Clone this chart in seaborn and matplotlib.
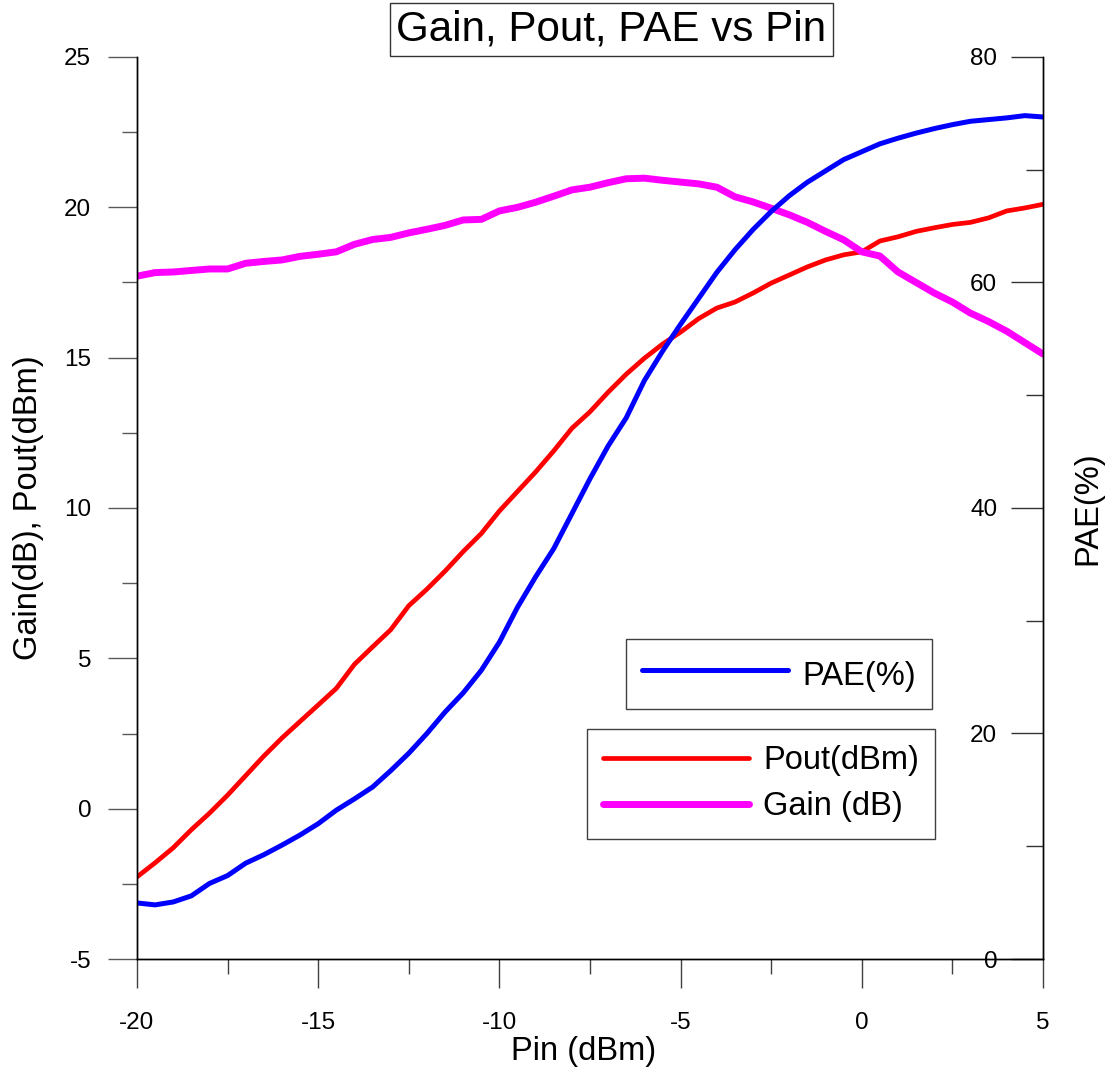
import numpy as np
import pandas as pd
import seaborn as sns
import matplotlib.pyplot as plt
from matplotlib.ticker import MultipleLocator

# sweep of input power, 0.5 dBm steps
pin = np.arange(-20, 5.01, 0.5)

gain = [17.71, 17.83, 17.85, 17.90, 17.95, 17.95, 18.14, 18.20, 18.25, 18.37,
        18.44, 18.52, 18.77, 18.93, 19.00, 19.15, 19.27, 19.40, 19.58, 19.60,
        19.88, 20.00, 20.17, 20.37, 20.58, 20.67, 20.82, 20.95, 20.97, 20.90,
        20.84, 20.78, 20.67, 20.35, 20.18, 19.97, 19.75, 19.50, 19.20, 18.92,
        18.52, 18.38, 17.85, 17.50, 17.15, 16.85, 16.48, 16.20, 15.88, 15.50,
        15.12]

pout = [-2.27, -1.80, -1.30, -0.70, -0.15, 0.45, 1.10, 1.75, 2.35, 2.90,
        3.45, 4.00, 4.80, 5.38, 5.95, 6.75, 7.30, 7.90, 8.55, 9.15,
        9.90, 10.55, 11.20, 11.90, 12.65, 13.20, 13.85, 14.45, 14.98, 15.45,
        15.85, 16.30, 16.65, 16.85, 17.15, 17.48, 17.75, 18.02, 18.25, 18.42,
        18.52, 18.88, 19.02, 19.20, 19.32, 19.43, 19.50, 19.65, 19.88, 19.98,
        20.10]

pae = [4.97, 4.80, 5.06, 5.60, 6.70, 7.40, 8.50, 9.25, 10.10, 11.00,
       12.00, 13.20, 14.20, 15.25, 16.70, 18.25, 20.00, 21.90, 23.60, 25.60,
       28.10, 31.20, 33.90, 36.40, 39.50, 42.60, 45.50, 48.00, 51.30, 53.90,
       56.30, 58.60, 60.90, 62.90, 64.70, 66.30, 67.70, 68.90, 69.90, 70.90,
       71.60, 72.30, 72.80, 73.25, 73.65, 74.00, 74.30, 74.45, 74.60, 74.80,
       74.68]

sns.set_style('ticks')
plt.rcParams['font.family'] = ['Liberation Sans', 'DejaVu Sans']
plt.rcParams['axes.unicode_minus'] = False
plt.rcParams['text.color'] = 'black'
plt.rcParams['axes.labelcolor'] = 'black'
plt.rcParams['xtick.labelcolor'] = 'black'
plt.rcParams['ytick.labelcolor'] = 'black'

fig = plt.figure(figsize=(11.12, 10.69), dpi=100)
ax = fig.add_axes([137 / 1112, 110 / 1069, 906 / 1112, 902 / 1069])
ax2 = ax.twinx()

sns.lineplot(x=pin, y=pout, ax=ax, color='red', lw=3.4, label='Pout(dBm)',
             legend=False, solid_capstyle='round')
sns.lineplot(x=pin, y=gain, ax=ax, color='magenta', lw=5, label='Gain (dB)',
             legend=False, solid_capstyle='round')
sns.lineplot(x=pin, y=pae, ax=ax2, color='blue', lw=3.6, label='PAE(%)',
             legend=False, solid_capstyle='round')

ax.set_xlim(-20, 5)
ax.set_ylim(-5, 25)
ax2.set_ylim(0, 80)

ax.xaxis.set_major_locator(MultipleLocator(5))
ax.xaxis.set_minor_locator(MultipleLocator(2.5))
ax.yaxis.set_major_locator(MultipleLocator(5))
ax.yaxis.set_minor_locator(MultipleLocator(2.5))
ax2.yaxis.set_major_locator(MultipleLocator(20))
ax2.yaxis.set_minor_locator(MultipleLocator(10))

for a in (ax, ax2):
    a.spines['top'].set_visible(False)
    for s in a.spines.values():
        s.set_color('black')
        s.set_linewidth(1.0)

ax.tick_params(axis='x', which='major', direction='out', length=21, width=1,
               color='0.25', pad=17, labelsize=17.5, labelcolor='black')
ax.tick_params(axis='x', which='minor', direction='out', length=10.5, width=1,
               color='0.25')
ax.tick_params(axis='y', which='major', direction='out', length=21, width=1,
               color='0.35', pad=12, labelsize=17.5, labelcolor='black')
ax.tick_params(axis='y', which='minor', direction='out', length=10.5, width=1,
               color='0.35')

# right axis: ticks point inward, labels sit inside the plot
ax2.tick_params(axis='y', which='major', direction='in', length=23, width=1,
                color='0.2', pad=-33, labelsize=17.5, labelcolor='black')
ax2.tick_params(axis='y', which='minor', direction='in', length=12, width=1,
                color='0.2')
for lab in ax2.get_yticklabels():
    lab.set_horizontalalignment('right')

ax.set_xlabel('Pin (dBm)', fontsize=23.5, color='black')
ax.set_ylabel('Gain(dB), Pout(dBm)', fontsize=23.5, color='black')
ax2.set_ylabel('PAE(%)', fontsize=23.5, color='black')
ax.xaxis.label.set_verticalalignment('center')
ax.xaxis.set_label_coords(0.493, -0.103)
ax.yaxis.label.set_verticalalignment('center')
ax.yaxis.set_label_coords(-0.1203, 0.5)
ax2.yaxis.label.set_verticalalignment('center')
ax2.yaxis.set_label_coords(1.0497, 0.5)

fig.text(611.5 / 1112, 1 - 29.5 / 1069, 'Gain, Pout, PAE vs Pin', fontsize=30.3,
         ha='center', va='center', color='black',
         bbox=dict(boxstyle='square,pad=0.15', fc='white', ec='0.2', lw=1))

h1, l1 = ax.get_legend_handles_labels()
h2, l2 = ax2.get_legend_handles_labels()

leg1 = ax2.legend(h2, l2, loc='upper left', bbox_to_anchor=(626 / 1112, 1 - 639 / 1069),
                  bbox_transform=fig.transFigure, borderaxespad=0, fontsize=23.5,
                  frameon=True, fancybox=False, shadow=False, handlelength=4.45,
                  handleheight=1.4, handletextpad=0.45, borderpad=0.5,
                  labelcolor='black')
leg1.get_frame().set_edgecolor('0.25')
leg1.get_frame().set_linewidth(1.0)
leg1.get_frame().set_alpha(1)

leg2 = fig.legend(h1, l1, loc='upper left', bbox_to_anchor=(587 / 1112, 1 - 729 / 1069),
                  bbox_transform=fig.transFigure, borderaxespad=0, fontsize=23.5,
                  frameon=True, fancybox=False, shadow=False, handlelength=4.45,
                  handletextpad=0.45, borderpad=0.5, labelspacing=0.46,
                  labelcolor='black')
leg2.get_frame().set_edgecolor('0.25')
leg2.get_frame().set_linewidth(1.0)
leg2.get_frame().set_alpha(1)

fig.savefig('out.png', dpi=100)
